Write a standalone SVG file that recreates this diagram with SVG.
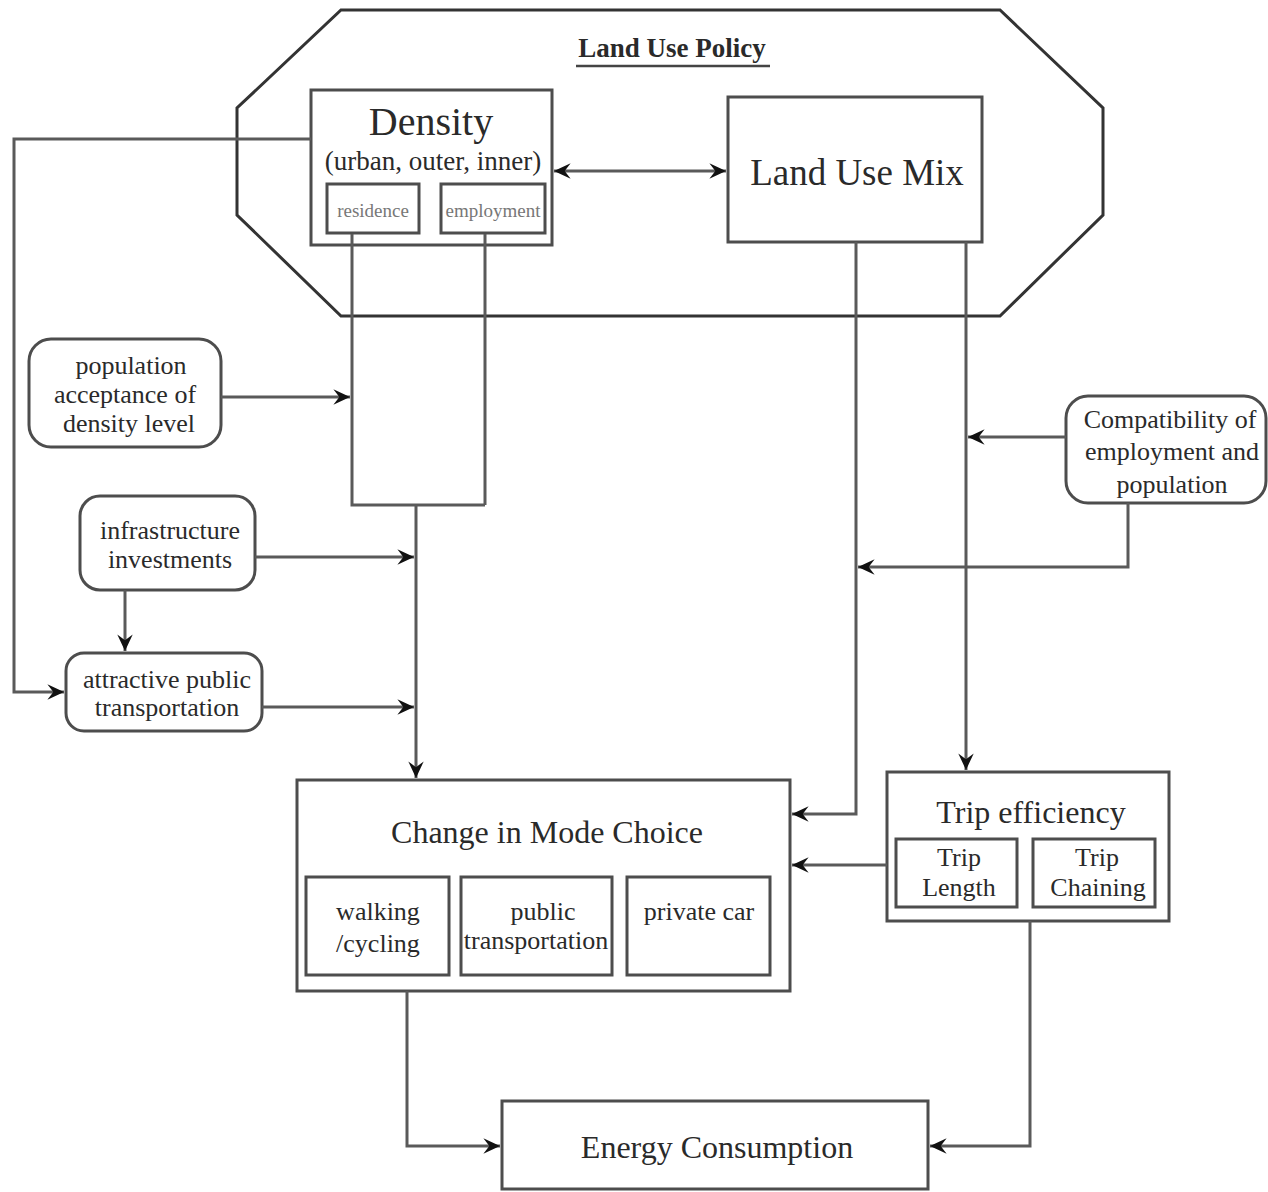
<svg xmlns="http://www.w3.org/2000/svg" width="1268" height="1192" viewBox="0 0 1268 1192">
<defs>
<marker id="arr" viewBox="0 0 16 16" refX="15" refY="8" markerWidth="19" markerHeight="19" markerUnits="userSpaceOnUse" orient="auto-start-reverse">
<path d="M1,1.5 L15,8 L1,14.5 L6,8 Z" fill="#111"/>
</marker>
<style>
.box{fill:#fff;stroke:#4d4d4d;stroke-width:3}
.sub{fill:#fff;stroke:#4d4d4d;stroke-width:3}
.rbox{fill:#fff;stroke:#4d4d4d;stroke-width:3}
.oct{fill:none;stroke:#333;stroke-width:3}
.c{fill:none;stroke:#5a5a5a;stroke-width:3}
.a{marker-end:url(#arr)}
text{font-family:"Liberation Serif","Times New Roman",serif;fill:#2a2a2a;text-anchor:middle}
.t26{font-size:26px}
.small{font-size:19px;fill:#777}
</style>
</defs>
<rect width="1268" height="1192" fill="#fff"/>
<g id="land-use-policy">
<polygon class="oct" points="341,10 1000,10 1103,108 1103,215 1000,316 341,316 237,215 237,108"/>
<text x="672" y="57" style="font-size:27px;font-weight:bold">Land Use Policy</text>
<line x1="576" y1="66" x2="770" y2="66" stroke="#444" stroke-width="2.5"/>
</g>
<g id="density">
<rect class="box" x="311" y="90" width="241" height="155"/>
<text x="431" y="135" style="font-size:40px">Density</text>
<text x="433" y="170" style="font-size:27px">(urban, outer, inner)</text>
<rect class="sub" x="327" y="184" width="92" height="49"/>
<text class="small" x="373" y="217">residence</text>
<rect class="sub" x="441" y="184" width="104" height="49"/>
<text class="small" x="493" y="217">employment</text>
</g>
<g id="land-use-mix">
<rect class="box" x="728" y="97" width="254" height="145"/>
<text x="857" y="185" style="font-size:37px">Land Use Mix</text>
</g>
<g id="population">
<rect class="rbox" x="29" y="339" width="192" height="108" rx="22"/>
<text class="t26" x="131" y="374">population</text>
<text class="t26" x="125" y="403">acceptance of</text>
<text class="t26" x="129" y="432">density level</text>
</g>
<g id="infrastructure">
<rect class="rbox" x="80" y="496" width="175" height="94" rx="20"/>
<text class="t26" x="170" y="539">infrastructure</text>
<text class="t26" x="170" y="568">investments</text>
</g>
<g id="attractive">
<rect class="rbox" x="66" y="653" width="196" height="78" rx="18"/>
<text class="t26" x="167" y="688">attractive public</text>
<text class="t26" x="167" y="716">transportation</text>
</g>
<g id="compatibility">
<rect class="rbox" x="1066" y="396" width="200" height="107" rx="22"/>
<text class="t26" x="1170" y="428">Compatibility of</text>
<text class="t26" x="1172" y="460">employment and</text>
<text class="t26" x="1172" y="493">population</text>
</g>
<g id="mode-choice">
<rect class="box" x="297" y="780" width="493" height="211"/>
<text x="547" y="843" style="font-size:32px">Change in Mode Choice</text>
<rect class="sub" x="306" y="877" width="143" height="98"/>
<text class="t26" x="378" y="920">walking</text>
<text class="t26" x="378" y="952">/cycling</text>
<rect class="sub" x="461" y="877" width="151" height="98"/>
<text class="t26" x="543" y="920">public</text>
<text class="t26" x="536" y="949">transportation</text>
<rect class="sub" x="627" y="877" width="143" height="98"/>
<text class="t26" x="699" y="920">private car</text>
</g>
<g id="trip-efficiency">
<rect class="box" x="887" y="772" width="282" height="149"/>
<text x="1031" y="823" style="font-size:32px">Trip efficiency</text>
<rect class="sub" x="896" y="839" width="121" height="68"/>
<text class="t26" x="959" y="866">Trip</text>
<text class="t26" x="959" y="896">Length</text>
<rect class="sub" x="1033" y="839" width="122" height="68"/>
<text class="t26" x="1097" y="866">Trip</text>
<text class="t26" x="1098" y="896">Chaining</text>
</g>
<g id="energy">
<rect class="box" x="502" y="1101" width="426" height="88"/>
<text x="717" y="1158" style="font-size:32px">Energy Consumption</text>
</g>
<g id="connectors">
<line class="c" x1="554" y1="171" x2="726" y2="171" marker-start="url(#arr)" marker-end="url(#arr)"/>
<path class="c a" d="M311,139 H14 V692 H64"/>
<path class="c" d="M352,234 V505 H485 M485,234 V505"/>
<path class="c a" d="M416,505 V778"/>
<path class="c a" d="M221,397 H350"/>
<path class="c a" d="M255,557 H414"/>
<path class="c a" d="M125,590 V651"/>
<path class="c a" d="M262,707 H414"/>
<path class="c a" d="M856,242 V814 H792"/>
<path class="c a" d="M966,242 V770"/>
<path class="c a" d="M1066,437 H968"/>
<path class="c a" d="M1128,503 V567 H858"/>
<path class="c a" d="M887,865 H792"/>
<path class="c a" d="M407,991 V1146 H500"/>
<path class="c a" d="M1030,921 V1146 H930"/>
</g>
</svg>
